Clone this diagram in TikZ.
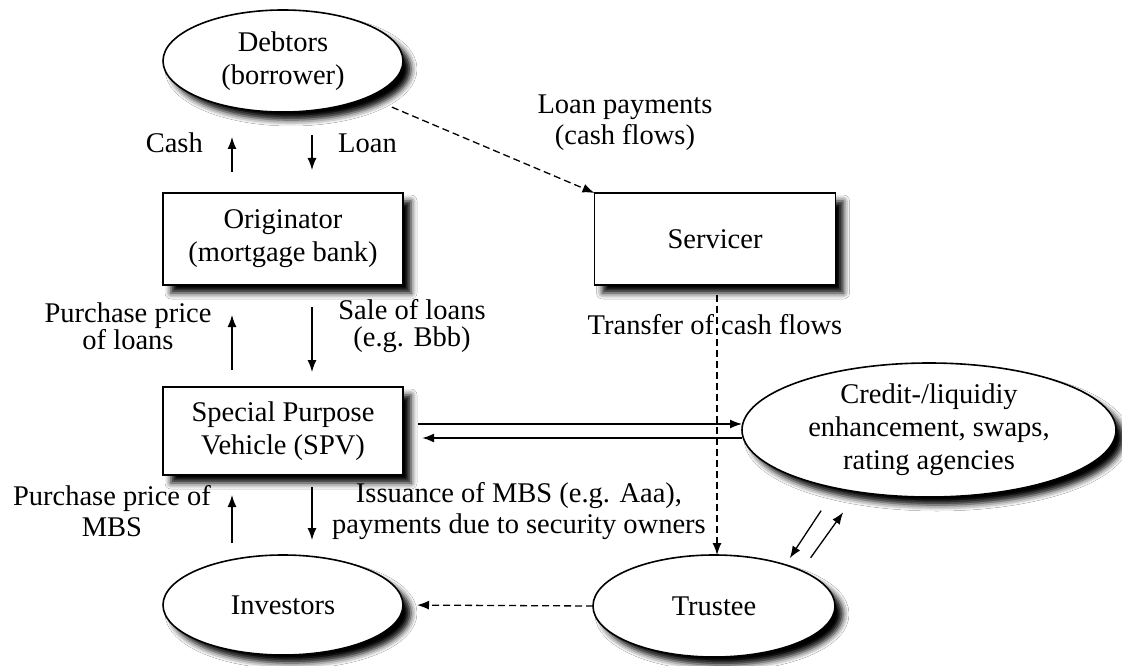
\documentclass[tikz,border=0pt]{standalone}
\usepackage{fontspec}
\setmainfont{Liberation Serif}
\usetikzlibrary{shapes.geometric,shadows.blur,arrows.meta}
\tikzset{
party/.style={
  draw,
  line width=1.6pt,
  fill=white,
  align=center,
  inner sep=0pt,
  outer sep=0pt,
  font=\fontsize{28.5}{33}\selectfont,
  blur shadow={shadow xshift=8pt,shadow yshift=-8pt,
    shadow blur radius=6pt,shadow opacity=100}
},
oval/.style={party,ellipse},
box/.style={party,rectangle},
lbl/.style={align=center,inner sep=0pt,font=\fontsize{28.5}{31}\selectfont},
flow/.style={line width=1.3pt,-{Latex[length=12pt,width=9pt]}},
dflow/.style={flow,dash pattern=on 7pt off 4pt},
}
\begin{document}
\begin{tikzpicture}[x=1pt,y=-1pt]
\path[use as bounding box,fill=white] (0,0) rectangle (1122,666);
% the parties
\node[oval,minimum width=240pt,minimum height=102pt] (deb) at (283,61) {Debtors\\(borrower)};
\node[box,minimum width=240pt,minimum height=92pt] (orig) at (283,239) {Originator\\(mortgage bank)};
\node[box,minimum width=240pt,minimum height=88pt] (spv) at (283,431) {Special Purpose\\Vehicle (SPV)};
\node[oval,minimum width=240pt,minimum height=100pt] (inv) at (283,605) {Investors};
\node[box,minimum width=241pt,minimum height=92pt] (serv) at (715,239) {Servicer};
\node[oval,minimum width=374pt,minimum height=134pt] (cred) at (929,430)
  {Credit-/liquidiy\\enhancement, swaps,\\rating agencies};
\node[oval,minimum width=242pt,minimum height=102pt] (trus) at (714,606) {Trustee};
% the labels
\node[lbl,anchor=east] (cash) at (203,143) {Cash};
\node[lbl,anchor=west] (loan) at (338,143) {Loan};
\node[lbl,font=\fontsize{28.5}{27}\selectfont] (pploans) at (128,326) {Purchase price\\of loans};
\node[lbl,font=\fontsize{28.5}{27}\selectfont] (sale) at (412,326) {Sale of loans\\(e.g. Bbb)};
\node[lbl] (ppmbs) at (112,511) {Purchase price of\\MBS};
\node[lbl] (issue) at (519,511) {Issuance of MBS (e.g. Aaa),\\payments due to security owners};
\node[lbl] (lpay) at (625,123) {Loan payments\\(cash flows)};
\node[lbl] (transfer) at (715,325) {Transfer of cash flows};
% the arrows
\draw[flow,shorten <=21pt,shorten >=25pt] ([xshift=-51pt]orig.north) -- ([xshift=-51pt]deb.south);
\draw[flow,shorten <=23pt,shorten >=23pt] ([xshift=29pt]deb.south) -- ([xshift=29pt]orig.north);
\draw[flow,shorten <=17pt,shorten >=30pt] ([xshift=-51pt]spv.north) -- ([xshift=-51pt]orig.south);
\draw[flow,shorten <=22pt,shorten >=15pt] ([xshift=29pt]orig.south) -- ([xshift=29pt]spv.north);
\draw[flow,shorten <=12pt,shorten >=20pt] ([xshift=-51pt]inv.north) -- ([xshift=-51pt]spv.south);
\draw[flow,shorten <=12pt,shorten >=15pt] ([xshift=29pt]spv.south) -- ([xshift=29pt]inv.north);
\draw[flow,shorten <=15pt] ([yshift=7pt]spv.east) -- ([yshift=7pt]spv.east -| cred.west);
\draw[flow,line width=2pt,shorten >=19pt] ([yshift=-7pt]spv.east -| cred.west) -- ([yshift=-7pt]spv.east);
\draw[flow,shorten <=27pt,shorten >=8pt] (cred.212.7) -- (trus.30);
\draw[flow,shorten <=16pt,shorten >=25pt] (trus.22.6) -- (cred.221);
\draw[dflow,shorten <=26pt] (deb) -- (serv.north west);
\draw[dflow,shorten <=10pt] ([xshift=2pt]serv.south) -- ([xshift=2pt]serv.south |- trus.north);
\draw[dflow,shorten >=14pt] (trus.west) -- (inv.east);
\end{tikzpicture}
\end{document}
